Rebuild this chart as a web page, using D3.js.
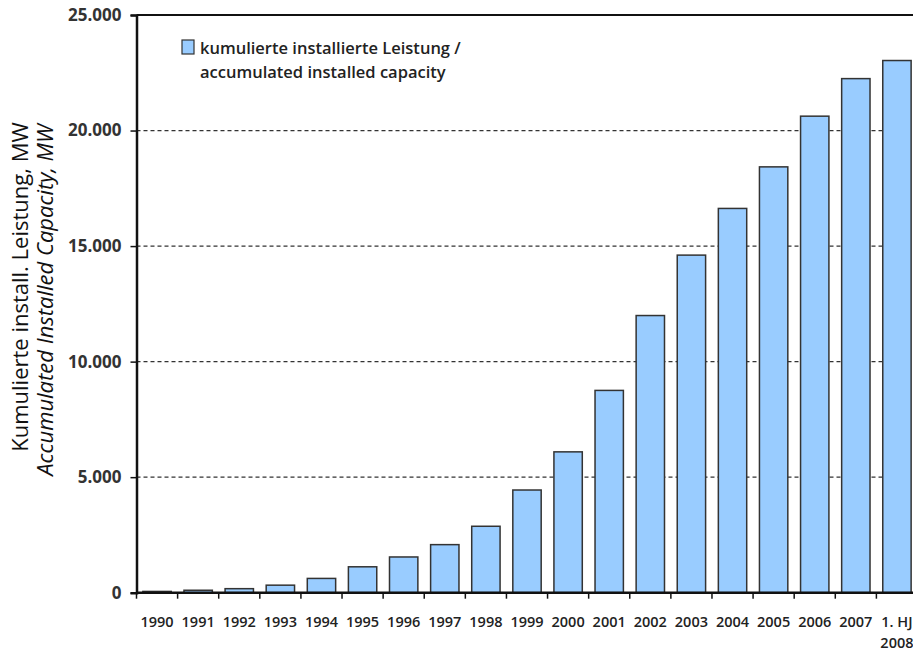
<!DOCTYPE html>
<html><head><meta charset="utf-8">
<script src="https://cdn.jsdelivr.net/npm/d3@7"></script>
<style>
html,body{margin:0;padding:0;background:#fff;overflow:hidden;}
svg{display:block;}
text{font-family:"Open Sans",sans-serif;}
</style></head>
<body>
<svg id="chart" width="913" height="650"></svg>
<script>
const categories = ["1990","1991","1992","1993","1994","1995","1996","1997","1998","1999","2000","2001","2002","2003","2004","2005","2006","2007","1. HJ|2008"];
const capacityMW = [55,106,174,326,618,1121,1546,2080,2875,4444,6095,8754,11994,14609,16629,18428,20622,22247,23030];
const yTicks = [0,5000,10000,15000,20000,25000];
const legendLines = ["kumulierte installierte Leistung /","accumulated installed capacity"];
const yTitleLines = ["Kumulierte install. Leistung, MW","Accumulated Installed Capacity, MW"];

const svg = d3.select("#chart");
const L = 136.5, R = 917.5, T = 15, B = 592.7;

const x = d3.scaleBand().domain(categories).range([L, R]).paddingInner(0.31).paddingOuter(0.155);
const xb = d3.scaleBand().domain(categories).range([L, R]);
const y = d3.scaleLinear().domain([0, 25000]).range([B, T]);

const fmt = d => d === 0 ? "0" : d3.format(",")(d).replace(/,/g, ".");

// gridlines
svg.append("g").selectAll("line").data(yTicks.filter(d => d > 0 && d < 25000)).join("line")
  .attr("x1", L).attr("x2", R).attr("y1", d => y(d)).attr("y2", d => y(d))
  .attr("stroke", "#333").attr("stroke-width", 1.2).attr("stroke-dasharray", "4,3");

// top border
svg.append("line").attr("x1", L).attr("x2", R).attr("y1", T).attr("y2", T)
  .attr("stroke", "#111").attr("stroke-width", 2.2);

// bars
svg.append("g").selectAll("rect").data(categories).join("rect")
  .attr("x", d => x(d)).attr("width", x.bandwidth())
  .attr("y", (d, i) => y(capacityMW[i])).attr("height", (d, i) => B - y(capacityMW[i]))
  .attr("fill", "#99CCFF").attr("stroke", "#333").attr("stroke-width", 1.5);

// y axis
const yAxis = svg.append("g").attr("transform", `translate(${L},0)`)
  .call(d3.axisLeft(y).tickValues(yTicks).tickFormat(fmt).tickSize(6).tickPadding(9));
yAxis.select(".domain").attr("stroke", "#111").attr("stroke-width", 2.5);
yAxis.selectAll(".tick line").attr("stroke", "#111").attr("stroke-width", 1.5);
yAxis.selectAll(".tick text").attr("font-size", 17).attr("font-weight", 700).attr("fill", "#333")
  .attr("font-family", '"Open Sans",sans-serif');

// x axis baseline + ticks at band boundaries
const xAxis = svg.append("g").attr("transform", `translate(0,${B})`);
xAxis.append("line").attr("x1", L).attr("x2", R).attr("stroke", "#111").attr("stroke-width", 2.5);
xAxis.selectAll("line.tk").data(categories.concat(["__end"])).join("line").attr("class", "tk")
  .attr("x1", (d, i) => L + i * xb.step()).attr("x2", (d, i) => L + i * xb.step())
  .attr("y1", 0).attr("y2", 6).attr("stroke", "#111").attr("stroke-width", 1.5);
xAxis.selectAll("text").data(categories).join("text")
  .attr("x", d => xb(d) + xb.bandwidth() / 2).attr("y", 34)
  .attr("text-anchor", "middle").attr("font-size", 14.5).attr("font-weight", 600).attr("fill", "#222")
  .each(function(d) {
    const parts = d.split("|");
    d3.select(this).selectAll("tspan").data(parts).join("tspan")
      .attr("x", xb(d) + xb.bandwidth() / 2).attr("dy", (p, j) => j === 0 ? 0 : 21).text(p => p);
  });

// legend
const lg = svg.append("g");
lg.append("rect").attr("x", 182).attr("y", 40).attr("width", 12).attr("height", 14)
  .attr("fill", "#99CCFF").attr("stroke", "#333").attr("stroke-width", 1.2);
lg.selectAll("text").data(legendLines).join("text")
  .attr("x", 200).attr("y", (d, i) => 54 + i * 24)
  .attr("font-size", 16.5).attr("font-weight", 600).attr("fill", "#222").text(d => d);

// y title
const yt = svg.append("g");
yt.append("text").attr("transform", "translate(28,287) rotate(-90)").attr("text-anchor", "middle")
  .attr("font-size", 22).attr("fill", "#111").text(yTitleLines[0]);
yt.append("text").attr("transform", "translate(53,300) rotate(-90)").attr("text-anchor", "middle")
  .attr("font-size", 22).attr("font-style", "italic").attr("fill", "#111").text(yTitleLines[1]);
</script>
</body></html>
